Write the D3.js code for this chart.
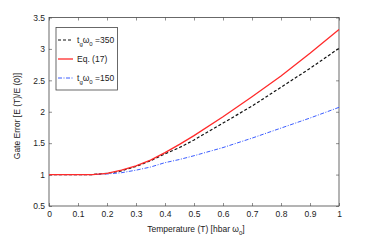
<html>
<script src="https://d3js.org/d3.v7.min.js"></script>
<style>
  body { margin: 0; background: #fff; }
  text { font-family: "Liberation Sans", Arial, sans-serif; fill: #222; }
</style>
<body>
<svg id="chart" width="374" height="241"></svg>
<script>
const temps = [0, 0.05, 0.1, 0.15, 0.2, 0.25, 0.3, 0.35, 0.4, 0.45, 0.5, 0.6, 0.7, 0.8, 0.9, 1.0];
const tg350 = [1.0, 1.0, 1.0, 1.0, 1.02, 1.06, 1.13, 1.22, 1.33, 1.43, 1.55, 1.82, 2.09, 2.39, 2.69, 3.01];
const eq17 = [1.0, 1.0, 1.0, 1.0, 1.02, 1.07, 1.14, 1.23, 1.35, 1.48, 1.62, 1.92, 2.24, 2.57, 2.93, 3.31];
const tg150 = [1.0, 1.0, 1.0, 1.0, 1.01, 1.03, 1.07, 1.12, 1.19, 1.24, 1.30, 1.43, 1.58, 1.74, 1.90, 2.07];
const xTicks = [0, 0.1, 0.2, 0.3, 0.4, 0.5, 0.6, 0.7, 0.8, 0.9, 1];
const yTicks = [0.5, 1, 1.5, 2, 2.5, 3, 3.5];

const svg = d3.select("#chart");
const pL = 49, pT = 17.5, pR = 339, pB = 206;
const x = d3.scaleLinear().domain([0, 1]).range([pL, pR]);
const y = d3.scaleLinear().domain([0.5, 3.5]).range([pB, pT]);

const fmt = d => String(d);
const tk = 3;

// axes, ticks inward on all sides (matlab box)
svg.append("g").attr("transform", "translate(0," + pB + ")")
  .call(d3.axisBottom(x).tickValues(xTicks).tickFormat(fmt).tickSizeInner(-tk).tickSizeOuter(0).tickPadding(5))
  .call(g => g.selectAll("text").style("font-size", "8.5px").attr("fill", "#222"));
svg.append("g").attr("transform", "translate(0," + pT + ")")
  .call(d3.axisTop(x).tickValues(xTicks).tickFormat("").tickSizeInner(-tk).tickSizeOuter(0));
svg.append("g").attr("transform", "translate(" + pL + ",0)")
  .call(d3.axisLeft(y).tickValues(yTicks).tickFormat(fmt).tickSizeInner(-tk).tickSizeOuter(0).tickPadding(4))
  .call(g => g.selectAll("text").style("font-size", "8.5px").attr("fill", "#222"));
svg.append("g").attr("transform", "translate(" + pR + ",0)")
  .call(d3.axisRight(y).tickValues(yTicks).tickFormat("").tickSizeInner(-tk).tickSizeOuter(0));
svg.selectAll(".domain").remove();
svg.selectAll(".tick line").attr("stroke", "#444").attr("stroke-width", 0.6);
svg.append("rect").attr("x", pL).attr("y", pT).attr("width", pR - pL).attr("height", pB - pT)
  .attr("fill", "none").attr("stroke", "#444").attr("stroke-width", 0.8);

const line = vals => d3.line().x((d, i) => x(temps[i])).y(d => y(d))(vals);

const series = [
  { vals: tg150, color: "#3a5cff", dash: "4,1.5,1,1.5", w: 1 },
  { vals: tg350, color: "#111", dash: "3,2", w: 1.2 },
  { vals: eq17, color: "#ff2a2a", dash: null, w: 1.3 }
];
series.forEach(s => {
  svg.append("path").attr("d", line(s.vals)).attr("fill", "none")
    .attr("stroke", s.color).attr("stroke-width", s.w)
    .attr("stroke-dasharray", s.dash);
});

// legend
const lg = svg.append("g");
lg.append("rect").attr("x", 56).attr("y", 27.5).attr("width", 61.5).attr("height", 62.5)
  .attr("fill", "#fff").attr("stroke", "#444").attr("stroke-width", 0.8);
const entries = [
  { y: 40, color: "#111", dash: "3,2", w: 1.2, label: ["t", "g", "ω", "0", " =350"] },
  { y: 59, color: "#ff2a2a", dash: null, w: 1.3, label: ["Eq. (17)"] },
  { y: 78, color: "#3a5cff", dash: "4,1.5,1,1.5", w: 1, label: ["t", "g", "ω", "0", " =150"] }
];
entries.forEach(e => {
  lg.append("line").attr("x1", 58).attr("x2", 73).attr("y1", e.y).attr("y2", e.y)
    .attr("stroke", e.color).attr("stroke-width", e.w).attr("stroke-dasharray", e.dash);
  const t = lg.append("text").attr("x", 77).attr("y", e.y + 3).style("font-size", "8.5px");
  if (e.label.length === 1) {
    t.text(e.label[0]);
  } else {
    t.append("tspan").text(e.label[0]);
    t.append("tspan").attr("dy", 2.5).style("font-size", "6px").text(e.label[1]);
    t.append("tspan").attr("dy", -2.5).text(e.label[2]);
    t.append("tspan").attr("dy", 2.5).style("font-size", "6px").text(e.label[3]);
    t.append("tspan").attr("dy", -2.5).text(e.label[4]);
  }
});

// axis labels
const xl = svg.append("text").attr("x", 196).attr("y", 232).attr("text-anchor", "middle").style("font-size", "8.5px");
xl.append("tspan").text("Temperature (T) [hbar ω");
xl.append("tspan").attr("dy", 2.5).style("font-size", "6px").text("0");
xl.append("tspan").attr("dy", -2.5).text("]");

svg.append("text").attr("transform", "translate(19.5,116) rotate(-90)")
  .attr("text-anchor", "middle").style("font-size", "8.5px")
  .text("Gate Error [E (T)/E (0)]");
</script>
</body>
</html>
